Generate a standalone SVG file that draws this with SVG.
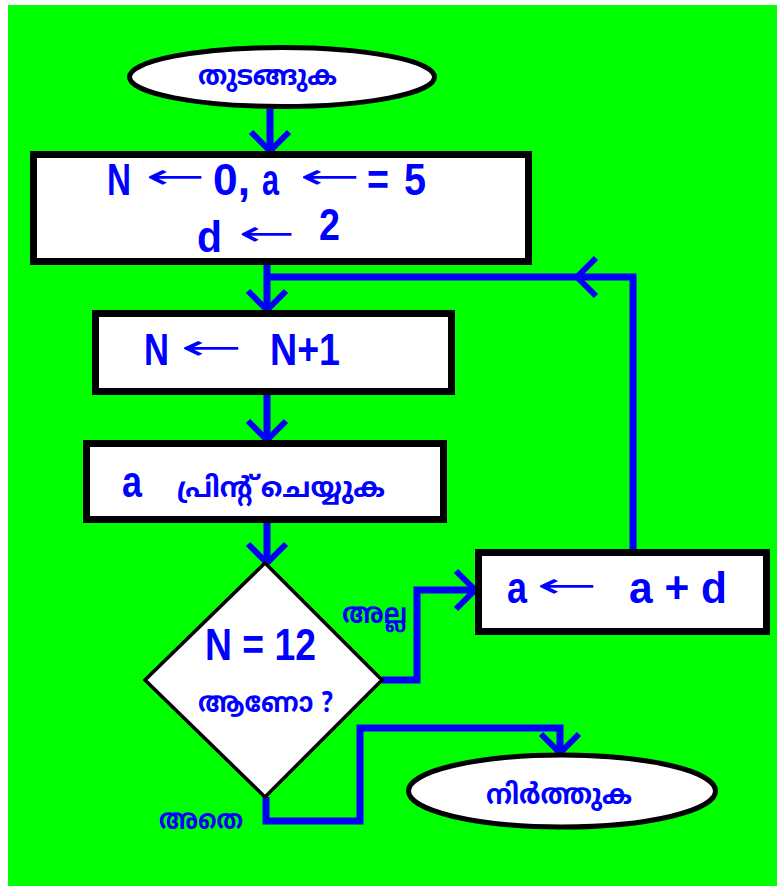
<svg xmlns="http://www.w3.org/2000/svg" width="777" height="888" viewBox="0 0 777 888">
<style>
.bx{fill:#fff;stroke:#000;stroke-width:7}
.el{fill:#fff;stroke:#000;stroke-width:5}
.dm{fill:#fff;stroke:#000;stroke-width:3.5}
.cn{fill:none;stroke:#0000ff;stroke-width:7}
.t{fill:#0000ff;font-family:"Liberation Sans",Arial,sans-serif;font-weight:bold;font-size:44px}
.ar{fill:#0000ff;font-family:"DejaVu Sans",sans-serif;font-size:34px}
.ml{fill:#0000ff;font-family:"Noto Sans Malayalam","Noto Serif Malayalam",Meera,Rachana,"Noto Sans",sans-serif;font-weight:bold;font-size:28px}
</style>
<defs>
<marker id="ah" viewBox="-25 -25 50 50" refX="0" refY="0" markerWidth="50" markerHeight="50" markerUnits="userSpaceOnUse" orient="auto">
<path d="M-19,-19 L0,0 L-19,19" fill="none" stroke="#0000ff" stroke-width="6"/>
</marker>
</defs>
<rect x="8" y="5" width="769" height="881" fill="#00ff00"/>
<g id="connectors">
<path class="cn" d="M270,109 V151" marker-end="url(#ah)"/>
<path class="cn" d="M267,265 V310" marker-end="url(#ah)"/>
<path class="cn" d="M633,549 V277 H577" marker-end="url(#ah)"/>
<path class="cn" d="M577,277 H264"/>
<path class="cn" d="M267,395 V440" marker-end="url(#ah)"/>
<path class="cn" d="M267,523 V563" marker-end="url(#ah)"/>
<path class="cn" d="M382,680 H417 V590 H475" marker-end="url(#ah)"/>
<path class="cn" d="M266,797 V821 H360 V728 H560 V753" marker-end="url(#ah)"/>
</g>
<g id="start">
<ellipse class="el" cx="282" cy="77" rx="152.5" ry="29.5"/>
<text class="ml" x="198" y="85" textLength="139" lengthAdjust="spacingAndGlyphs">തുടങ്ങുക</text>
</g>
<g id="init">
<rect class="bx" x="33.5" y="154.5" width="495" height="107"/>
<text class="t" x="107" y="195" textLength="24" lengthAdjust="spacingAndGlyphs">N</text>
<text class="ar" x="145" y="188" textLength="60" lengthAdjust="spacingAndGlyphs">←</text>
<text class="t" x="213" y="195" textLength="37" lengthAdjust="spacingAndGlyphs">0,</text>
<text class="t" x="262" y="195" textLength="17" lengthAdjust="spacingAndGlyphs">a</text>
<text class="ar" x="299" y="188" textLength="61" lengthAdjust="spacingAndGlyphs">←</text>
<text class="t" x="367" y="195" textLength="22" lengthAdjust="spacingAndGlyphs">=</text>
<text class="t" x="404" y="195" textLength="22" lengthAdjust="spacingAndGlyphs">5</text>
<text class="t" x="197" y="252" textLength="25" lengthAdjust="spacingAndGlyphs">d</text>
<text class="ar" x="238" y="245" textLength="57" lengthAdjust="spacingAndGlyphs">←</text>
<text class="t" x="319" y="240" textLength="21" lengthAdjust="spacingAndGlyphs">2</text>
</g>
<g id="incr">
<rect class="bx" x="95.5" y="313.5" width="356" height="78"/>
<text class="t" x="144" y="365" textLength="25" lengthAdjust="spacingAndGlyphs">N</text>
<text class="ar" x="180" y="359" textLength="62" lengthAdjust="spacingAndGlyphs">←</text>
<text class="t" x="270" y="365" textLength="70" lengthAdjust="spacingAndGlyphs">N+1</text>
</g>
<g id="print">
<rect class="bx" x="86.5" y="443.5" width="357" height="76"/>
<text class="t" x="122" y="497" textLength="20" lengthAdjust="spacingAndGlyphs">a</text>
<text class="ml" x="177" y="497" textLength="208" lengthAdjust="spacingAndGlyphs">പ്രിന്റ് ചെയ്യുക</text>
</g>
<g id="decision">
<polygon class="dm" points="265,563 382,680 265,797 145,680"/>
<text class="t" x="205" y="660" textLength="111" lengthAdjust="spacingAndGlyphs">N = 12</text>
<text class="ml" x="198" y="712" textLength="135" lengthAdjust="spacingAndGlyphs">ആണോ ?</text>
</g>
<g id="update">
<rect class="bx" x="478.5" y="552.5" width="288" height="79"/>
<text class="t" x="507" y="603" textLength="20" lengthAdjust="spacingAndGlyphs">a</text>
<text class="ar" x="536" y="597" textLength="61" lengthAdjust="spacingAndGlyphs">←</text>
<text class="t" x="629" y="603" textLength="98" lengthAdjust="spacingAndGlyphs">a + d</text>
</g>
<g id="stop">
<ellipse class="el" cx="562" cy="791" rx="153.5" ry="36"/>
<text class="ml" x="486" y="804" textLength="146" lengthAdjust="spacingAndGlyphs">നിർത്തുക</text>
</g>
<g id="labels">
<text class="ml" x="342" y="623" textLength="65" lengthAdjust="spacingAndGlyphs">അല്ല</text>
<text class="ml" x="159" y="829" textLength="84" lengthAdjust="spacingAndGlyphs">അതെ</text>
</g>
</svg>
